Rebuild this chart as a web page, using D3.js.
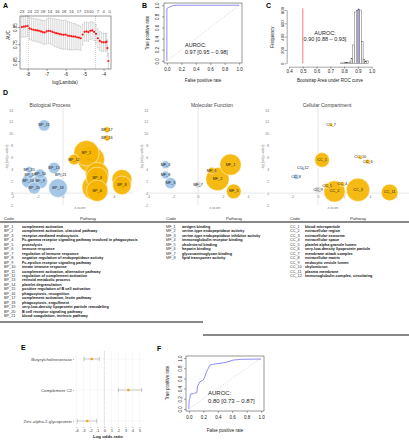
<!DOCTYPE html>
<html><head><meta charset="utf-8">
<script src="https://cdn.jsdelivr.net/npm/d3@7"></script>
<style>body{margin:0;background:#fff} svg{display:block} text{font-family:"Liberation Sans",Arial,sans-serif}</style>
</head><body><svg id="c" width="409" height="440"></svg>
<script>
// ---------- DATA ----------
// Panel A: cross-validated AUC vs log(lambda)
const aLogLambda = [-8.3,-8.2,-8.1,-8.0,-7.9,-7.8,-7.7,-7.6,-7.5,-7.4,-7.3,-7.2,-7.1,-7.0,-6.9,-6.8,-6.7,-6.6,-6.5,-6.4,-6.3,-6.2,-6.1,-6.0,-5.9,-5.8,-5.7,-5.6,-5.5,-5.4,-5.3,-5.2,-5.1,-5.0,-4.9,-4.8,-4.7,-4.6,-4.5,-4.4,-4.3,-4.2,-4.1,-4.0,-3.9,-3.85,-3.8,-3.75];
const aAUC = [0.850,0.852,0.854,0.856,0.842,0.838,0.834,0.832,0.830,0.828,0.824,0.820,0.818,0.824,0.828,0.826,0.822,0.818,0.814,0.812,0.808,0.806,0.804,0.806,0.800,0.798,0.796,0.794,0.794,0.790,0.788,0.784,0.806,0.822,0.824,0.820,0.828,0.830,0.822,0.810,0.784,0.768,0.762,0.760,0.760,0.764,0.726,0.650];
const aSD = [0.060,0.061,0.062,0.060,0.064,0.065,0.066,0.066,0.067,0.068,0.068,0.069,0.070,0.072,0.074,0.076,0.078,0.080,0.082,0.083,0.084,0.085,0.085,0.084,0.083,0.082,0.080,0.078,0.076,0.074,0.072,0.070,0.062,0.056,0.054,0.055,0.052,0.050,0.052,0.054,0.056,0.055,0.054,0.053,0.052,0.050,0.048,0.045];
const aTopPos = [-8.32,-7.91,-7.56,-7.21,-6.86,-6.46,-6.11,-5.72,-5.32,-4.93,-4.67,-4.33,-4.02,-3.70];
const aTopLabels = ["23","24","22","18","14","16","18","16","17","15","10","7","4","0"];
const aXTicks = [-8,-7,-6,-5,-4];
const aYTicks = [0.65,0.75,0.85];
const aLambdaLines = [-7.96,-4.42];

// Panel B: ROC (training)
const bFPR = [0,0,0.023,0.078,0.13,1];
const bTPR = [0,0.94,0.96,0.99,1,1];
const bText = ["AUROC:", "0.97 [0.95 \u2013 0.98]"];

// Panel C: bootstrap AUROC histogram
const cBinStart = [0.775,0.7875,0.80,0.8125,0.825,0.8375,0.85,0.8625,0.875,0.8875,0.90,0.9125,0.925,0.9375,0.95,0.9625];
const cBinWidth = 0.0125;
const cCounts = [5,5,10,10,15,20,75,275,770,790,810,800,325,60,35,35];
const cXTicks = [0.4,0.5,0.6,0.7,0.8,0.9,1.0];
const cYTicks = [0,200,400,600,800];
const cNull = 0.5, cObserved = 0.905;
const cText = ["AUROC:", "0.90 [0.88 \u2013 0.93]"];

// Panel D: GO bubble plots (z-score, -log adj p, gene count)
const bpCode = ["BP_1","BP_2","BP_3","BP_4","BP_5","BP_6","BP_7","BP_8","BP_9","BP_10","BP_11","BP_12","BP_13","BP_14","BP_15","BP_16","BP_17","BP_18","BP_19","BP_20","BP_21"];
const bpZ =    [1.84,2.21,2.68,2.68,2.49,2.68,4.62,4.62,-1.79,-1.79,-1.48,0.86,-0.70,-2.73,-2.65,3.45,3.45,-0.39,-2.57,-2.26,-0.18];
const bpLogP = [6.72,5.65,2.54,3.22,0.96,0.40,2.30,1.30,1.98,3.22,11.41,5.65,4.24,1.98,3.95,9.27,10.68,0.85,2.98,0.85,3.11];
const bpCount =[164,181,123,139,164,116,102,89,55,26,33,29,33,45,11,9,9,89,11,37,2];
const bpName = ["complement activation","complement activation, classical pathway","receptor-mediated endocytosis","Fc-gamma receptor signaling pathway involved in phagocytosis","proteolysis","immune response","regulation of immune response","negative regulation of endopeptidase activity","Fc-epsilon receptor signaling pathway","innate immune response","complement activation, alternative pathway","regulation of complement activation","retinoid metabolic process","platelet degranulation","positive regulation of B cell activation","phagocytosis, recognition","complement activation, lectin pathway","phagocytosis, engulfment","very-low-density lipoprotein particle remodeling","B cell receptor signaling pathway","blood coagulation, intrinsic pathway"];

const mfCode = ["MF_1","MF_2","MF_3","MF_4","MF_5","MF_6","MF_7","MF_8"];
const mfZ =    [2.6,1.56,-2.2,-2.6,2.86,1.09,0,-2.6];
const mfLogP = [4.8,2.37,1.69,4.8,0.28,3.79,1.41,3.05];
const mfCount =[116,139,33,16,55,11,11,16];
const mfName = ["antigen binding","serine-type endopeptidase activity","serine-type endopeptidase inhibitor activity","immunoglobulin receptor binding","cholesterol binding","heparin binding","glycosaminoglycan binding","lipid transporter activity"];

const ccCode = ["CC_1","CC_2","CC_3","CC_4","CC_5","CC_6","CC_7","CC_8","CC_9","CC_10","CC_11","CC_12"];
const ccZ =    [0.31,1.27,3.08,1.87,0.70,3.82,1.01,-1.69,0,3.25,5.51,-1.17];
const ccLogP = [5.59,0.28,0.56,1.52,1.24,5.31,11.5,2.77,0.56,6.05,0.11,4.18];
const ccCount =[55,116,139,6,7,6,3,7,11,4,71,3];
const ccName = ["blood microparticle","extracellular region","extracellular exosome","extracellular space","platelet alpha granule lumen","very-low-density lipoprotein particle","membrane attack complex","extracellular matrix","endocytic vesicle lumen","chylomicron","plasma membrane","immunoglobulin complex, circulating"];

const dXTicks = [-4,-2,0,2,4];
const dYTicks = [-2,0,2,4,6,8,10,12,14];

// Panel E: log odds ratios
const eProtein = ["Butyrylcholinesterase","Complement C2","Zinc-alpha-2-glycoprotein"];
const eLogOR = [-1.8,3.43,-2.43];
const eLower = [-2.9,2.0,-3.86];
const eUpper = [-0.71,5.34,-1.09];
const eXTicks = [-4,-3,-2,-1,0,1,2,3,4,5];

// Panel F: ROC (validation)
const fFPR = [0,0,0.005,0.014,0.02,0.06,0.08,0.11,0.115,0.12,0.14,0.15,0.20,0.22,0.245,0.27,0.29,0.34,0.50,0.615,0.73,1.0];
const fTPR = [0,0.08,0.18,0.21,0.29,0.30,0.31,0.32,0.39,0.45,0.50,0.53,0.57,0.63,0.73,0.80,0.86,0.88,0.91,0.96,0.975,0.98];
const fText = ["AUROC:", "0.80 [0.73 \u2013 0.87]"];
const rocTicks = [0,0.2,0.4,0.6,0.8,1.0];

// ---------- HELPERS ----------
const svg = d3.select('#c');
svg.append('rect').attr('width',409).attr('height',440).attr('fill','#fff');
const INK = '#222';
function txt(g, x, y, s, o={}) {
  const t = g.append('text').attr('x',x).attr('y',y).text(s)
    .attr('font-size',o.fs||4.5).attr('fill',o.fill||INK)
    .attr('text-anchor',o.anchor||'middle').attr('font-weight',o.fw||'normal')
    .attr('dominant-baseline','central');
  if (o.rot) t.attr('transform',`rotate(-90,${x},${y})`);
  return t;
}
function styleAxis(g, fs, col) {
  g.selectAll('text').attr('font-size',fs).attr('fill',col||INK);
  g.selectAll('line').attr('stroke',col||INK).attr('stroke-width',0.4);
  g.select('.domain').attr('stroke',col||INK).attr('stroke-width',0.4);
}
function rotY(g, k) {
  g.selectAll('.tick text').attr('x',0).attr('dy',0).attr('text-anchor','middle')
   .attr('dominant-baseline','auto').attr('transform',`translate(${-k},0) rotate(-90)`);
}
function letter(x,y,s){ txt(svg,x,y,s,{fs:7,fw:'bold',anchor:'start',fill:'#000'}); }

// ---------- PANEL A ----------
letter(3,5,'A');
const gA = svg.append('g');
const xA = d3.scaleLinear().domain([-8.40,-3.61]).range([20,111]);
const yA = d3.scaleLinear().domain([0.603,0.915]).range([69,16]);
aLogLambda.forEach((l,i)=>{
  const x = xA(l), y1 = yA(aAUC[i]+aSD[i]), y2 = yA(aAUC[i]-aSD[i]);
  gA.append('line').attr('x1',x).attr('x2',x).attr('y1',y1).attr('y2',y2).attr('stroke','#b3b3b3').attr('stroke-width',0.5);
  [y1,y2].forEach(y=>gA.append('line').attr('x1',x-0.9).attr('x2',x+0.9).attr('y1',y).attr('y2',y).attr('stroke','#b3b3b3').attr('stroke-width',0.5));
});
aLambdaLines.forEach(l=>gA.append('line').attr('x1',xA(l)).attr('x2',xA(l)).attr('y1',16).attr('y2',69).attr('stroke','#999').attr('stroke-width',0.5).attr('stroke-dasharray','1,1'));
gA.selectAll('circle').data(aLogLambda).join('circle').attr('cx',d=>xA(d)).attr('cy',(d,i)=>yA(aAUC[i])).attr('r',1.1).attr('fill','#ff1a1a');
gA.append('rect').attr('x',20).attr('y',16).attr('width',91).attr('height',53).attr('fill','none').attr('stroke','#333').attr('stroke-width',0.5);
const aB = gA.append('g').attr('transform','translate(0,69)').call(d3.axisBottom(xA).tickValues(aXTicks).tickSize(2).tickPadding(1.5).tickFormat(d=>String(d)));
aB.select('.domain').remove(); styleAxis(aB,4.5);
const aL = gA.append('g').attr('transform','translate(20,0)').call(d3.axisLeft(yA).tickValues(aYTicks).tickSize(2).tickFormat(d3.format('.2f')));
aL.select('.domain').remove(); styleAxis(aL,4.5); rotY(aL,3);
const aT = gA.append('g').attr('transform','translate(0,13)').call(d3.axisTop(xA).tickValues(aTopPos).tickSize(0).tickPadding(0.5).tickFormat((d,i)=>aTopLabels[i]));
aT.select('.domain').remove(); styleAxis(aT,4.2,'#444');
txt(gA,65,82,'log(Lambda)',{fs:4.5});
txt(gA,8,35,'AUC',{fs:4.5,rot:true});

// ---------- PANEL B ----------
letter(142,5,'B');
const gB = svg.append('g');
const xB = d3.scaleLinear().domain([-0.04,1.04]).range([164,242]);
const yB = d3.scaleLinear().domain([-0.04,1.04]).range([63,3]);
gB.append('line').attr('x1',xB(0)).attr('y1',yB(0)).attr('x2',xB(1)).attr('y2',yB(1)).attr('stroke','#bbb').attr('stroke-width',0.5).attr('stroke-dasharray','1,1');
gB.append('path').datum(bFPR.map((f,i)=>[f,bTPR[i]])).attr('d',d3.line().x(d=>xB(d[0])).y(d=>yB(d[1]))).attr('fill','none').attr('stroke','#7070ee').attr('stroke-width',0.8);
gB.append('rect').attr('x',164).attr('y',3).attr('width',78).attr('height',60).attr('fill','none').attr('stroke','#333').attr('stroke-width',0.5);
const bBx = gB.append('g').attr('transform','translate(0,63)').call(d3.axisBottom(xB).tickValues(rocTicks).tickSize(2).tickPadding(2.5).tickFormat(d3.format('.1f')));
bBx.select('.domain').remove(); styleAxis(bBx,4.5);
const bBy = gB.append('g').attr('transform','translate(164,0)').call(d3.axisLeft(yB).tickValues(rocTicks).tickSize(2).tickFormat(d3.format('.1f')));
bBy.select('.domain').remove(); styleAxis(bBy,4.5); rotY(bBy,5.5);
txt(gB,203,80,'False positive rate',{fs:4.5});
txt(gB,147,33,'True positive rate',{fs:4.5,rot:true});
txt(gB,185,45.3,bText[0],{fs:5.5,anchor:'start'});
txt(gB,185,51.7,bText[1],{fs:5.5,anchor:'start'});

// ---------- PANEL C ----------
letter(266,5,'C');
const gC = svg.append('g');
const xC = d3.scaleLinear().domain([0.4,1.0]).range([289,371.7]);
const yC = d3.scaleLinear().domain([0,800]).range([63.3,10]);
gC.selectAll('rect.bar').data(cBinStart).join('rect').attr('class','bar')
  .attr('x',d=>xC(d)).attr('width',d=>xC(d+cBinWidth)-xC(d))
  .attr('y',(d,i)=>yC(cCounts[i])).attr('height',(d,i)=>yC(0)-yC(cCounts[i]))
  .attr('fill','#fff').attr('stroke','#444').attr('stroke-width',0.4);
gC.append('line').attr('x1',xC(cNull)).attr('x2',xC(cNull)).attr('y1',8.3).attr('y2',63.3).attr('stroke','#ff4040').attr('stroke-width',0.7);
gC.append('line').attr('x1',xC(cObserved)).attr('x2',xC(cObserved)).attr('y1',8.3).attr('y2',63.3).attr('stroke','#6a6ae8').attr('stroke-width',0.6);
const cBx = gC.append('g').attr('transform','translate(0,66.7)').call(d3.axisBottom(xC).tickValues(cXTicks).tickSize(2).tickSizeOuter(0).tickPadding(1.2).tickFormat(d3.format('.1f')));
styleAxis(cBx,4.5);
const cBy = gC.append('g').attr('transform','translate(286.7,0)').call(d3.axisLeft(yC).tickValues(cYTicks).tickSize(2).tickSizeOuter(0).tickFormat(d3.format('d')));
styleAxis(cBy,4.2); rotY(cBy,3);
txt(gC,330,80,'Bootstrap Area under ROC curve',{fs:4.5});
txt(gC,272,37,'Frequency',{fs:4.5,rot:true});
txt(gC,325,32.5,cText[0],{fs:5.5});
txt(gC,325,39.3,cText[1],{fs:5.5});

// ---------- PANEL D ----------
letter(3,92,'D');
const yD = d3.scaleLinear().domain([-2,14]).range([205,110]);
const rD = d3.scaleSqrt().domain([0,200]).range([0,14]);
const colPos = '#F5B400', colNeg = '#9CC2E5', colZero = '#D6D6D6';
function bubblePanel(o) {
  const g = svg.append('g');
  const x = d3.scaleLinear().domain([-4,4]).range(o.xr);
  g.append('line').attr('x1',o.hx[0]).attr('x2',o.hx[1]).attr('y1',yD(0)).attr('y2',yD(0)).attr('stroke','#ccc').attr('stroke-width',0.5);
  g.append('line').attr('x1',x(0)).attr('x2',x(0)).attr('y1',108).attr('y2',205).attr('stroke','#ccc').attr('stroke-width',0.5);
  const ax = g.append('g').attr('transform',`translate(0,${yD(0)+1.5})`).call(d3.axisBottom(x).tickValues(o.xt).tickSize(0).tickPadding(1).tickFormat(d=>String(d)));
  ax.select('.domain').remove(); styleAxis(ax,3.3,'#777');
  const ay = g.append('g').attr('transform',`translate(${o.yx},0)`).call(d3.axisLeft(yD).tickValues(dYTicks).tickSize(0).tickPadding(1).tickFormat(d=>String(d)));
  ay.select('.domain').remove(); styleAxis(ay,3.3,'#777');
  txt(g,o.tx,105,o.title,{fs:5,fill:'#444'});
  txt(g,o.xlx,208,'z-score',{fs:3.3,fill:'#777'});
  txt(g,o.ylx,157,'-log (adj p-value)',{fs:3.3,fill:'#777',rot:true});
  const idx = d3.range(o.code.length).sort((a,b)=>o.count[b]-o.count[a]);
  const nodes = g.selectAll('g.b').data(idx).join('g').attr('class','b')
    .attr('transform',i=>`translate(${x(o.z[i])},${yD(o.lp[i])})`);
  nodes.append('circle').attr('r',i=>rD(o.count[i]))
    .attr('fill',i=>o.z[i]>0?colPos:(o.z[i]<0?colNeg:colZero))
    .attr('fill-opacity',0.92).attr('stroke','#fff').attr('stroke-width',0.5);
  nodes.append('text').text(i=>o.code[i]).attr('font-size',3.8).attr('fill','#222')
    .attr('text-anchor','middle').attr('dominant-baseline','central');
}
bubblePanel({code:bpCode,z:bpZ,lp:bpLogP,count:bpCount,xr:[12,114],hx:[12,133],xt:dXTicks,yx:14,tx:50,xlx:80,ylx:7,title:'Biological Process'});
bubblePanel({code:mfCode,z:mfZ,lp:mfLogP,count:mfCount,xr:[148,248],hx:[147,265],xt:dXTicks,yx:149,tx:212,xlx:215,ylx:142,title:'Molecular Function'});
bubblePanel({code:ccCode,z:ccZ,lp:ccLogP,count:ccCount,xr:[266,370],hx:[270,409],xt:[-2,0,2,4,6],yx:270,tx:327,xlx:333,ylx:263,title:'Cellular Compartment'});

// ---------- TABLE ----------
const gT = svg.append('g');
gT.append('line').attr('x1',0).attr('x2',409).attr('y1',222).attr('y2',222).attr('stroke','#111').attr('stroke-width',1);
gT.append('line').attr('x1',0).attr('x2',203).attr('y1',322).attr('y2',322).attr('stroke','#111').attr('stroke-width',1);
gT.append('line').attr('x1',203).attr('x2',409).attr('y1',335).attr('y2',335).attr('stroke','#111').attr('stroke-width',1);
function tableBlock(codes, names, cx, px, hx) {
  txt(gT,cx,218,'Code',{fs:4.2,anchor:'start',fill:'#333'});
  txt(gT,hx,218,'Pathway',{fs:4.2,anchor:'start',fill:'#333'});
  codes.forEach((c,i)=>{
    const y = 227 + i*4.45;
    txt(gT,cx,y,c,{fs:3.8,anchor:'start',fill:'#333'});
    txt(gT,px,y,names[i],{fs:3.8,anchor:'start',fill:'#111',fw:'bold'});
  });
}
tableBlock(bpCode,bpName,4,22,80);
tableBlock(mfCode,mfName,166,182,226);
tableBlock(ccCode,ccName,290,305,350);

// ---------- PANEL E ----------
letter(21,347,'E');
const gE = svg.append('g');
const xE = d3.scaleLinear().domain([-4.33,5.81]).range([74,145]);
const yE = d3.scalePoint().domain(eProtein).range([359,421]);
eXTicks.forEach(t=>gE.append('line').attr('x1',xE(t)).attr('x2',xE(t)).attr('y1',351).attr('y2',427).attr('stroke','#ececec').attr('stroke-width',0.5));
eProtein.forEach(p=>gE.append('line').attr('x1',74).attr('x2',145).attr('y1',yE(p)).attr('y2',yE(p)).attr('stroke','#ececec').attr('stroke-width',0.5));
gE.append('line').attr('x1',xE(0)).attr('x2',xE(0)).attr('y1',351).attr('y2',427).attr('stroke','#bbb').attr('stroke-width',0.5).attr('stroke-dasharray','1.5,1');
eProtein.forEach((p,i)=>{
  const y = yE(p);
  gE.append('line').attr('x1',xE(eLower[i])).attr('x2',xE(eUpper[i])).attr('y1',y).attr('y2',y).attr('stroke','#999').attr('stroke-width',0.5);
  [eLower[i],eUpper[i]].forEach(v=>gE.append('line').attr('x1',xE(v)).attr('x2',xE(v)).attr('y1',y-2.3).attr('y2',y+2.3).attr('stroke','#999').attr('stroke-width',0.5));
});
gE.selectAll('circle').data(eProtein).join('circle').attr('cx',(d,i)=>xE(eLogOR[i])).attr('cy',d=>yE(d)).attr('r',1.2).attr('fill','#F5A000');
const eX = gE.append('g').attr('transform','translate(0,427)').call(d3.axisBottom(xE).tickValues(eXTicks).tickSize(1).tickPadding(1.5).tickFormat(d=>String(d)));
eX.select('.domain').remove(); styleAxis(eX,4.2,'#444');
const eY = gE.append('g').attr('transform','translate(74,0)').call(d3.axisLeft(yE).tickSize(1).tickPadding(1));
eY.select('.domain').remove(); styleAxis(eY,4.3,'#444');
txt(gE,108,436,'Log odds ratio',{fs:4.3,fw:'bold',fill:'#222'});

// ---------- PANEL F ----------
letter(157,348,'F');
const gF = svg.append('g');
const xF = d3.scaleLinear().domain([-0.04,1.04]).range([186,264]);
const yF = d3.scaleLinear().domain([-0.04,1.04]).range([411,356]);
gF.append('line').attr('x1',xF(0)).attr('y1',yF(0)).attr('x2',xF(1)).attr('y2',yF(1)).attr('stroke','#bbb').attr('stroke-width',0.5).attr('stroke-dasharray','1,1');
gF.append('path').datum(fFPR.map((f,i)=>[f,fTPR[i]])).attr('d',d3.line().x(d=>xF(d[0])).y(d=>yF(d[1]))).attr('fill','none').attr('stroke','#7070ee').attr('stroke-width',0.8);
gF.append('rect').attr('x',186).attr('y',356).attr('width',78).attr('height',55).attr('fill','none').attr('stroke','#333').attr('stroke-width',0.5);
const fBx = gF.append('g').attr('transform','translate(0,411)').call(d3.axisBottom(xF).tickValues(rocTicks).tickSize(2).tickPadding(3).tickFormat(d3.format('.1f')));
fBx.select('.domain').remove(); styleAxis(fBx,4.5);
const fBy = gF.append('g').attr('transform','translate(186,0)').call(d3.axisLeft(yF).tickValues(rocTicks).tickSize(2).tickFormat(d3.format('.1f')));
fBy.select('.domain').remove(); styleAxis(fBy,4.5); rotY(fBy,4);
txt(gF,225,430,'False positive rate',{fs:4.5});
txt(gF,167,383,'True positive rate',{fs:4.5,rot:true});
txt(gF,208,393,fText[0],{fs:6,anchor:'start'});
txt(gF,208,401,fText[1],{fs:6,anchor:'start'});
</script></body></html>
